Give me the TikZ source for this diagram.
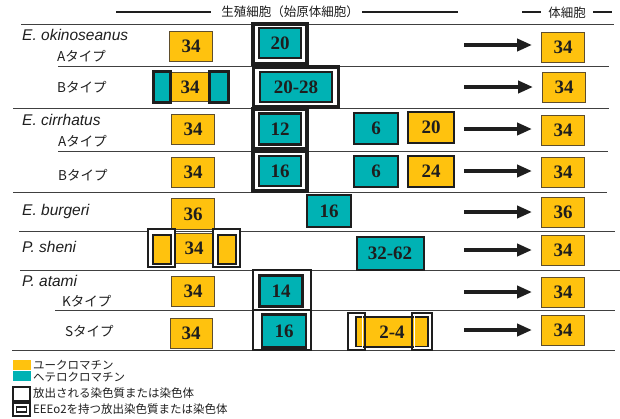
\documentclass[tikz,border=0pt]{standalone}
\usepackage{fontspec}
\setmainfont{Liberation Serif}
\newfontfamily\jp{Noto Sans CJK JP}
\newfontfamily\lsans{Liberation Sans}
\usetikzlibrary{arrows.meta}
\definecolor{yel}{RGB}{255,194,14}
\definecolor{cya}{RGB}{0,178,180}
\definecolor{ybord}{RGB}{95,78,45}
\definecolor{ink}{RGB}{30,30,30}
\tikzset{
  num/.style={inner sep=0pt, text=ink, font=\bfseries\fontsize{19pt}{19pt}\selectfont},
  eu/.style={num, fill=yel, draw=ybord, line width=0.9pt, minimum width=43pt, minimum height=30pt},
  euT/.style={num, fill=yel, draw=ink, line width=2pt, minimum width=46pt, minimum height=31pt},
  het/.style={num, fill=cya, draw=ink, line width=2.6pt, minimum width=42pt, minimum height=30pt},
  dframe/.style={draw=ink, fill=white, line width=3.2pt, minimum width=54pt, minimum height=40pt, inner sep=0pt},
  sframe/.style={draw=ink, fill=white, line width=2pt, minimum width=58pt, minimum height=40pt, inner sep=0pt},
  oframe/.style={draw=ink, line width=2.2pt},
  sep/.style={draw=ink!85, line width=0.9pt},
  hline/.style={draw=ink, line width=1.6pt},
  arr/.style={draw=ink, line width=4pt, -{Triangle[length=15pt,width=12pt]}, shorten >=9pt},
  lab/.style={anchor=base west, inner sep=0pt, font=\lsans\itshape\fontsize{15.5pt}{16pt}\selectfont, text=ink},
  jlab/.style={anchor=base west, inner sep=0pt, font=\jp\fontsize{13.5pt}{14pt}\selectfont, text=ink},
  head/.style={inner sep=0pt, font=\jp\fontsize{12.5pt}{13pt}\selectfont, text=ink},
  leg/.style={anchor=base west, inner sep=0pt, font=\jp\fontsize{11.5pt}{12pt}\selectfont, text=ink},
}
\begin{document}
\begin{tikzpicture}[x=1pt,y=-1pt]
\useasboundingbox (0,0) rectangle (620,418);
% header
\node[head] (hg) at (290,12) {生殖細胞（始原体細胞）};
\node[head] (hs) at (567,13) {体細胞};
\draw[hline] (116,12) -- (211,12);
\draw[hline] (362,12) -- (458,12);
\draw[hline] (522,12) -- (541,12);
\draw[hline] (593,12) -- (612,12);
% separators
\draw[sep] (21,24) -- (614,24);
\draw[sep] (58,66) -- (609,66);
\draw[sep] (13,108) -- (609,108);
\draw[sep] (58,151) -- (608,151);
\draw[sep] (13,192) -- (607,192);
\draw[sep] (19,231) -- (615,231);
\draw[sep] (20,270) -- (620,270);
\draw[sep] (55,310) -- (615,310);
\draw[sep] (12,350) -- (615,350);
% labels
\node[lab] (n1) at (22,40) {E. okinoseanus};
\node[jlab] (t1a) at (57,61) {Aタイプ};
\node[jlab] (t1b) at (57,92) {Bタイプ};
\node[lab] (n2) at (22,125) {E. cirrhatus};
\node[jlab] (t2a) at (58,146) {Aタイプ};
\node[jlab] (t2b) at (58,180) {Bタイプ};
\node[lab] (n3) at (22,215) {E. burgeri};
\node[lab] (n4) at (22,252) {P. sheni};
\node[lab] (n5) at (22,286) {P. atami};
\node[jlab] (t5k) at (62,306) {Kタイプ};
\node[jlab] (t5s) at (65,336) {Sタイプ};
% row 1
\node[eu] (l1) at (191,46) {34};
\node[dframe] (f1) at (280,44) {};
\node[het] (h1) at (280,43) {20};
\node[eu] (r1) at (563,47) {34};
\coordinate (s1) at (464,45);
\draw[arr] (s1) -- (s1 -| r1.west);
% row 2
\node[eu, minimum width=40pt, minimum height=29pt] (l2) at (190,87) {34};
\node[het, minimum width=17pt, minimum height=31pt] (l2a) at (162,87) {};
\node[het, minimum width=19pt, minimum height=31pt] (l2b) at (219,87) {};
\node[dframe, minimum width=85pt] (f2) at (296,87) {};
\node[het, minimum width=72pt] (h2) at (296,87) {20-28};
\node[eu] (r2) at (564,87) {34};
\coordinate (s2) at (464,87);
\draw[arr] (s2) -- (s2 -| r2.west);
% row 3
\node[eu] (l3) at (193,129) {34};
\node[dframe] (f3) at (280,129) {};
\node[het, minimum height=31pt] (h3) at (280,129) {12};
\node[het, line width=2pt, minimum width=44pt, minimum height=31pt] (c3) at (376,128) {6};
\node[euT] (y3) at (431,127) {20};
\node[eu] (r3) at (563,130) {34};
\coordinate (s3) at (464,129);
\draw[arr] (s3) -- (s3 -| r3.west);
% row 4
\node[eu] (l4) at (193,172) {34};
\node[dframe] (f4) at (280,171) {};
\node[het] (h4) at (280,171) {16};
\node[het, line width=2pt, minimum width=44pt, minimum height=31pt] (c4) at (376,171) {6};
\node[euT] (y4) at (431,171) {24};
\node[eu] (r4) at (563,172) {34};
\coordinate (s4) at (464,171);
\draw[arr] (s4) -- (s4 -| r4.west);
% row 5
\node[eu, minimum height=31pt] (l5) at (193,214) {36};
\node[het, line width=1.6pt, minimum width=44pt, minimum height=32pt] (c5) at (329,211) {16};
\node[eu] (r5) at (563,212) {36};
\coordinate (s5) at (464,212);
\draw[arr] (s5) -- (s5 -| r5.west);
% row 6
\node[eu, minimum width=38pt] (l6) at (194,248) {34};
\node[dframe, line width=2.6pt, minimum width=27pt, minimum height=38pt] (f6a) at (161.5,248) {};
\node[euT, minimum width=18pt, minimum height=29pt] (y6a) at (162,249) {};
\node[dframe, line width=2.6pt, minimum width=27pt, minimum height=38pt] (f6b) at (226.5,248) {};
\node[euT, minimum width=18pt, minimum height=29pt] (y6b) at (227,249) {};
\node[het, line width=2pt, minimum width=67pt, minimum height=33pt] (c6) at (390,253) {32-62};
\node[eu] (r6) at (563,250) {34};
\coordinate (s6) at (464,250);
\draw[arr] (s6) -- (s6 -| r6.west);
% row 7
\node[eu] (l7) at (193,291) {34};
\node[sframe] (f7) at (282,290) {};
\node[het, minimum width=43pt, minimum height=31pt] (h7) at (281,291) {14};
\node[eu] (r7) at (563,292) {34};
\coordinate (s7) at (464,292);
\draw[arr] (s7) -- (s7 -| r7.west);
% row 8
\node[eu, minimum width=42pt] (l8) at (191,333) {34};
\node[sframe] (f8) at (282,330) {};
\node[het, minimum width=44pt, minimum height=33pt] (h8) at (284,331) {16};
\node[euT, minimum width=72pt, minimum height=30pt] (y8) at (392,332) {2-4\hspace{18pt}};
\draw[oframe] (348,313) rectangle (365,350);
\draw[white, line width=0.8pt] (350.5,315.5) rectangle (362.5,347.5);
\draw[oframe] (412,313) rectangle (432,350);
\draw[white, line width=0.8pt] (414.5,315.5) rectangle (429.5,347.5);
\node[eu] (r8) at (563,330) {34};
\coordinate (s8) at (464,330);
\draw[arr] (s8) -- (s8 -| r8.west);
% legend
\node[fill=yel, minimum width=18pt, minimum height=10pt, inner sep=0pt] (k1) at (22,365) {};
\node[fill=cya, minimum width=18pt, minimum height=10pt, inner sep=0pt] (k2) at (22,376) {};
\node[draw=ink, line width=2.5pt, fill=white, minimum width=17pt, minimum height=14pt, inner sep=0pt] (k3) at (21.5,394) {};
\node[draw=ink, line width=2.5pt, fill=white, minimum width=17pt, minimum height=13pt, inner sep=0pt] (k4) at (21.5,409.5) {};
\node[draw=ink, line width=1.8pt, fill=white, minimum width=10pt, minimum height=5pt, inner sep=0pt] (k4i) at (21.5,409.5) {};
\node[leg] (g1) at (33,369.5) {ユークロマチン};
\node[leg] (g2) at (33,381) {ヘテロクロマチン};
\node[leg] (g3) at (33,397.5) {放出される染色質または染色体};
\node[leg] (g4) at (33,413) {EEEo2を持つ放出染色質または染色体};
\end{tikzpicture}
\end{document}
